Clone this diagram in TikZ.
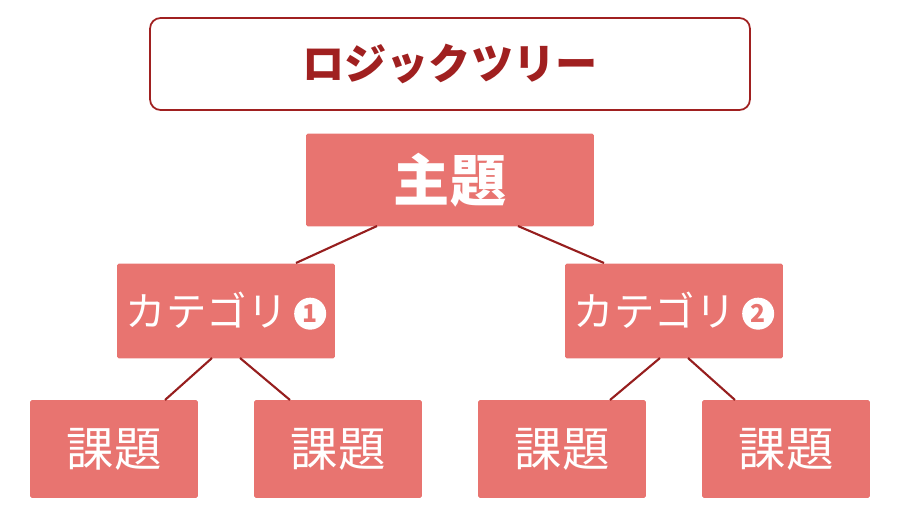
\documentclass[tikz,border=0pt]{standalone}
\usepackage{fontspec}
\newfontfamily\cjk{Noto Sans CJK JP}
\usepackage{tikz}
\usetikzlibrary{positioning}
\definecolor{boxred}{RGB}{232,116,112}
\definecolor{linered}{RGB}{150,30,30}
\definecolor{titlered}{RGB}{160,32,32}
\newcommand{\circnum}[1]{\tikz[baseline=-0.6ex]\node[circle,fill=white,inner sep=1pt,minimum size=0.64cm,text=boxred,font=\cjk\bfseries\fontsize{14}{14}\selectfont]{#1};}

\begin{document}
\begin{tikzpicture}[x=0.02cm,y=-0.02cm]
    \tikzset{box/.style = {draw=none, fill=boxred, text=white, inner sep=0pt, rounded corners=1pt, font=\cjk\bfseries}}
    \tikzset{link/.style = {linered, line width=1.2pt}}

    \useasboundingbox (0,0) rectangle (900,517);

    % title
    \node[draw=titlered, line width=1pt, rounded corners=6pt, minimum width=12cm, minimum height=1.84cm,
          text=titlered, font=\cjk\bfseries\fontsize{24}{24}\selectfont] (title) at (450,64) {ロジックツリー};

    % main
    \node[box, minimum width=5.76cm, minimum height=1.86cm, font=\cjk\bfseries\fontsize{32}{32}\selectfont] (main) at (450,180) {主題};

    % categories
    \node[box, minimum width=4.36cm, minimum height=1.9cm, font=\cjk\fontsize{23}{23}\selectfont] (cat1) at (226,311) {カテゴリ\,\circnum{1}};
    \node[box, minimum width=4.36cm, minimum height=1.9cm, font=\cjk\fontsize{23}{23}\selectfont] (cat2) at (674,311) {カテゴリ\,\circnum{2}};

    % leaves
    \foreach \n/\x in {a/114, b/338, c/562, d/786}
        \node[box, minimum width=3.36cm, minimum height=1.96cm, font=\cjk\fontsize{27}{27}\selectfont] (leaf\n) at (\x,449) {課題};

    % link ends
    \coordinate (m1) at (377,226);
    \coordinate (m2) at (518,226);
    \coordinate (c1t) at (296,263);
    \coordinate (c2t) at (604,263);
    \coordinate (c1a) at (212,358);
    \coordinate (c1b) at (240,358);
    \coordinate (c2a) at (660,358);
    \coordinate (c2b) at (688,358);
    \coordinate (la) at (165,400);
    \coordinate (lb) at (290,400);
    \coordinate (lc) at (610,400);
    \coordinate (ld) at (735,400);

    \draw[link] (m1) -- (c1t);
    \draw[link] (m2) -- (c2t);
    \draw[link] (c1a) -- (la);
    \draw[link] (c1b) -- (lb);
    \draw[link] (c2a) -- (lc);
    \draw[link] (c2b) -- (ld);
\end{tikzpicture}
\end{document}
